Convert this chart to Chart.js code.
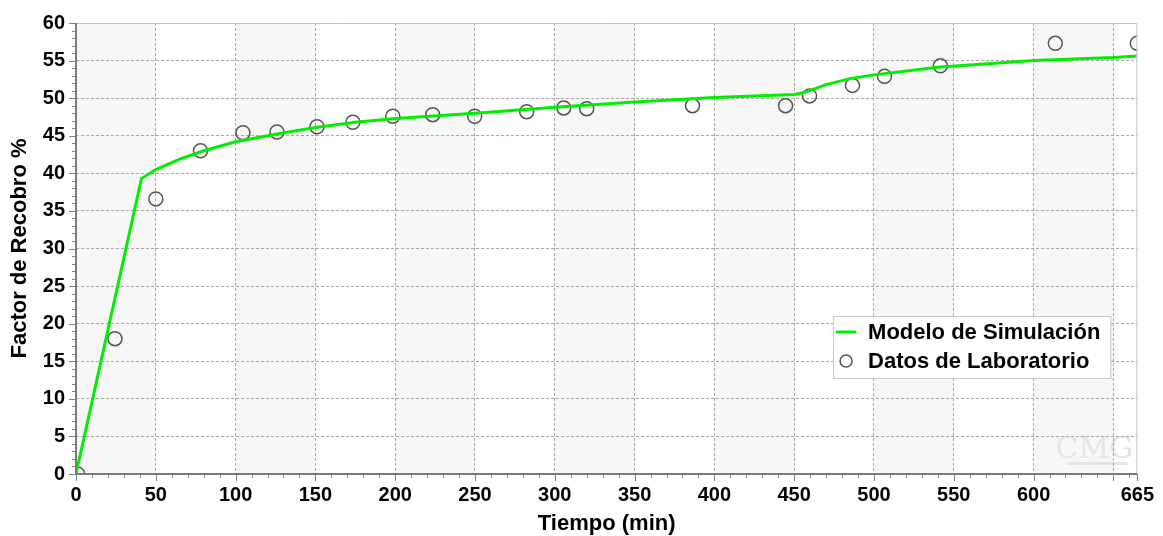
<!DOCTYPE html>
<html>
<head>
<meta charset="utf-8">
<script src="https://cdn.jsdelivr.net/npm/chart.js@4"></script>
<style>
  html, body { margin: 0; padding: 0; background: #fff; }
</style>
</head>
<body>
<canvas id="chart" width="1163" height="536"></canvas>
<script>
// Modelo de Simulación (line)
const simTime = [0, 41, 50, 65, 80, 100, 125, 150, 175, 200, 250, 300, 350, 400, 450, 457, 470, 485, 500, 540, 600, 650, 665];
const simRecobro = [0, 39.3, 40.5, 41.9, 43.0, 44.2, 45.2, 46.1, 46.8, 47.3, 48.0, 48.8, 49.5, 50.1, 50.5, 50.8, 51.8, 52.6, 53.1, 54.1, 55.0, 55.4, 55.6];

// Datos de Laboratorio (circles)
const labTime = [1, 24.4, 50, 78, 104.6, 125.9, 151, 173.5, 198.5, 223.5, 249.8, 282.4, 305.6, 320, 386.3, 444.6, 459.6, 486.5, 506.6, 541.6, 613.6, 665];
const labRecobro = [0, 18.0, 36.6, 43.0, 45.4, 45.5, 46.2, 46.8, 47.6, 47.8, 47.6, 48.2, 48.7, 48.6, 49.0, 49.0, 50.3, 51.7, 52.9, 54.3, 57.3, 57.3];

const xTickLabels = [0, 50, 100, 150, 200, 250, 300, 350, 400, 450, 500, 550, 600, 665];
const yTickLabels = [0, 5, 10, 15, 20, 25, 30, 35, 40, 45, 50, 55, 60];

const font = "'Liberation Sans', Arial, sans-serif";
const green = "#00ee00";
const circleColor = "#555555";

const simData = simTime.map((t, i) => ({ x: t, y: simRecobro[i] }));
const labData = labTime.map((t, i) => ({ x: t, y: labRecobro[i] }));

const decor = {
  id: "decor",
  beforeDraw(chart) {
    const { ctx, chartArea: a, scales: { x } } = chart;
    ctx.save();
    ctx.fillStyle = "#f7f7f7";
    for (let v = 0; v < 665; v += 100) {
      const x0 = x.getPixelForValue(v);
      const x1 = x.getPixelForValue(Math.min(v + 50, 665));
      ctx.fillRect(x0, a.top, x1 - x0, a.bottom - a.top);
    }
    // watermark
    ctx.fillStyle = "#e4e4e4";
    ctx.font = "30px 'DejaVu Serif', serif";
    ctx.textAlign = "center";
    ctx.fillText("CMG", a.right - 43, a.bottom - 16);
    ctx.fillRect(a.right - 70, a.bottom - 12, 60, 3);
    ctx.restore();
  },
  afterDraw(chart) {
    const { ctx, chartArea: a, scales: { x, y } } = chart;
    ctx.save();
    // top / right frame
    ctx.strokeStyle = "#c4c4c4";
    ctx.lineWidth = 1;
    ctx.beginPath();
    ctx.moveTo(a.left, a.top + 0.5);
    ctx.lineTo(a.right - 0.5, a.top + 0.5);
    ctx.lineTo(a.right - 0.5, a.bottom);
    ctx.stroke();

    // tick marks
    ctx.strokeStyle = "#808080";
    ctx.beginPath();
    x.ticks.forEach((t) => {
      const px = Math.round(x.getPixelForValue(t.value)) + 0.5;
      const len = (t.value % 50 === 0 || t.value === 665) ? 7 : 4;
      ctx.moveTo(px, a.bottom);
      ctx.lineTo(px, a.bottom + len);
    });
    y.ticks.forEach((t) => {
      const py = Math.round(y.getPixelForValue(t.value)) + 0.5;
      const len = t.value % 5 === 0 ? 7 : 4;
      ctx.moveTo(a.left, py);
      ctx.lineTo(a.left - len, py);
    });
    ctx.stroke();

    // axis lines
    ctx.lineWidth = 2;
    ctx.strokeStyle = "#7a7a7a";
    ctx.beginPath();
    ctx.moveTo(a.left, a.top);
    ctx.lineTo(a.left, a.bottom);
    ctx.lineTo(a.right, a.bottom);
    ctx.stroke();

    // legend box inside plot
    ctx.font = "bold 22px " + font;
    const labels = chart.data.datasets.map((d) => d.label);
    const textW = Math.max(...labels.map((l) => ctx.measureText(l).width));
    const boxW = 35 + textW + 10;
    const boxH = 62;
    const bx = a.right - 27 - boxW;
    const by = a.bottom - 96 - boxH;
    ctx.fillStyle = "#ffffff";
    ctx.fillRect(bx, by, boxW, boxH);
    ctx.strokeStyle = "#c8c8c8";
    ctx.lineWidth = 1;
    ctx.strokeRect(bx + 0.5, by + 0.5, boxW, boxH);

    ctx.strokeStyle = green;
    ctx.lineWidth = 3;
    ctx.beginPath();
    ctx.moveTo(bx + 3, by + 16);
    ctx.lineTo(bx + 23, by + 16);
    ctx.stroke();

    ctx.strokeStyle = circleColor;
    ctx.lineWidth = 1.5;
    ctx.beginPath();
    ctx.arc(bx + 13, by + 45, 6, 0, Math.PI * 2);
    ctx.stroke();

    ctx.fillStyle = "#000";
    ctx.textAlign = "left";
    ctx.textBaseline = "middle";
    ctx.fillText(labels[0], bx + 35, by + 17);
    ctx.fillText(labels[1], bx + 35, by + 46);
    ctx.restore();
  },
};

const myChart = new Chart(document.getElementById("chart"), {
  type: "scatter",
  data: {
    datasets: [
      {
        label: "Modelo de Simulación",
        data: simData,
        showLine: true,
        borderColor: green,
        backgroundColor: green,
        borderWidth: 3,
        pointRadius: 0,
        tension: 0,
      },
      {
        label: "Datos de Laboratorio",
        data: labData,
        showLine: false,
        borderColor: circleColor,
        backgroundColor: "rgba(0,0,0,0)",
        borderWidth: 1.5,
        pointRadius: 7,
      },
    ],
  },
  options: {
    responsive: false,
    animation: false,
    layout: { padding: { top: 23, right: 25, left: 0, bottom: 0 } },
    plugins: {
      legend: { display: false },
      tooltip: { enabled: false },
    },
    scales: {
      x: {
        type: "linear",
        min: 0,
        max: 665,
        afterBuildTicks: (scale) => {
          const ticks = [];
          for (let v = 0; v <= 660; v += 10) ticks.push({ value: v });
          ticks.push({ value: 665 });
          scale.ticks = ticks;
        },
        afterFit: (scale) => {
          scale.height = 62;
        },
        ticks: {
          autoSkip: false,
          maxRotation: 0,
          padding: 9,
          color: "#000",
          font: { family: font, size: 20, weight: "bold" },
          callback: (value) => (xTickLabels.includes(value) ? value : ""),
        },
        grid: {
          drawTicks: false,
          lineWidth: 1,
          color: (c) =>
            c.tick && c.tick.value % 50 === 0 && c.tick.value > 0 && c.tick.value < 665
              ? "#a8a8a8"
              : "rgba(0,0,0,0)",
        },
        border: { display: false, dash: [3, 2] },
        title: {
          display: true,
          text: "Tiempo (min)",
          color: "#000",
          font: { family: font, size: 22, weight: "bold" },
          padding: { top: 0, bottom: -1 },
        },
      },
      y: {
        type: "linear",
        min: 0,
        max: 60,
        afterBuildTicks: (scale) => {
          const ticks = [];
          for (let v = 0; v <= 60; v += 1) ticks.push({ value: v });
          scale.ticks = ticks;
        },
        afterFit: (scale) => {
          scale.width = 76;
        },
        ticks: {
          autoSkip: false,
          padding: 11,
          color: "#000",
          font: { family: font, size: 20, weight: "bold" },
          callback: (value) => (yTickLabels.includes(value) ? value : ""),
        },
        grid: {
          drawTicks: false,
          lineWidth: 1,
          color: (c) =>
            c.tick && c.tick.value % 5 === 0 && c.tick.value > 0 && c.tick.value < 60
              ? "#a8a8a8"
              : "rgba(0,0,0,0)",
        },
        border: { display: false, dash: [3, 2] },
        title: {
          display: true,
          text: "Factor de Recobro %",
          color: "#000",
          font: { family: font, size: 22, weight: "bold" },
          padding: { top: 7, bottom: 0 },
        },
      },
    },
  },
  plugins: [decor],
});
</script>
</body>
</html>
